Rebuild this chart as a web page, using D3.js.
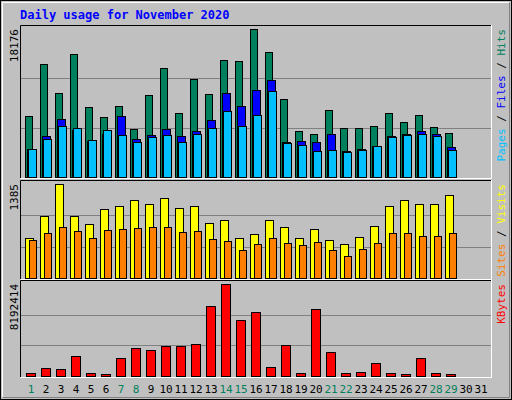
<!DOCTYPE html>
<html><head><meta charset="utf-8">
<script src="https://cdn.jsdelivr.net/npm/d3@7"></script>
<style>body{margin:0;background:#fff}svg{display:block}</style>
</head><body><svg id="chart" width="512" height="400"></svg>
<script>
// data
var days = d3.range(1, 32);
var weekends = [1, 7, 8, 14, 15, 21, 22, 28, 29];
var hits = [7540,13840,10260,15080,8650,7420,8780,5930,10010,13350,7910,11990,10140,14340,14210,18176,15330,9520,5690,5320,8280,6060,6060,6300,7910,6800,7660,6180,5440,0];
var files = [3460,5070,7170,5810,4450,5320,7540,4700,5190,5930,5070,5690,7050,10260,8780,10630,11870,4330,4450,4330,5320,3210,3460,3830,5070,5320,5690,5320,3710,0];
var pages = [3460,4700,6300,6060,4570,5810,5190,4330,4940,5190,4330,5320,6060,8160,6300,7660,10510,4200,3960,3210,3340,3090,3340,3830,4940,5190,5320,5070,3340,0];
var visits = [590,920,1385,920,800,1010,1055,1145,1085,1175,1025,1055,815,860,590,650,860,755,590,725,560,500,605,770,1055,1145,1085,1085,1220,0];
var sites = [560,665,755,695,590,710,725,740,755,755,680,695,575,545,410,500,590,515,485,530,410,320,425,515,665,665,620,620,665,0];
var kbytes = [299000,747500,657800,1823800,299000,209300,1644400,2451700,2272300,2631100,2631100,2810500,6219000,8192414,4963200,5680800,837200,2720800,299000,5949900,2092900,299000,388700,1196000,299000,209300,1644400,299000,209300];

var svg = d3.select('#chart');
var font = "'DejaVu Sans Mono', monospace";

// outer frame
svg.append('rect').attr('x', 0.5).attr('y', 0.5).attr('width', 511).attr('height', 399)
    .attr('fill', '#c0c0c0').attr('stroke', '#000');
svg.append('path').attr('d', 'M2.5,397.5V2.5H509.5').attr('fill', 'none').attr('stroke', '#fff');
svg.append('path').attr('d', 'M2.5,397.5H509.5V2.5').attr('fill', 'none').attr('stroke', '#808080');

svg.append('text').attr('x', 20).attr('y', 19).text('Daily usage for November 2020')
    .attr('font-family', font).attr('font-weight', 'bold').attr('font-size', 12).attr('fill', '#0000ff');

var x = d3.scaleLinear().domain([1, 31]).range([25, 475]);

function panel(y0, y1, top, max, label, series, rlabels) {
    svg.append('path').attr('d', `M20.5,${y1}V${y0}.5H491`).attr('fill', 'none').attr('stroke', '#000');
    svg.append('path').attr('d', `M20.5,${y1}.5H491.5V${y0}`).attr('fill', 'none').attr('stroke', '#fff');
    var base = y1 - 1;
    var y = d3.scaleLinear().domain([0, max]).range([base, top]);
    [1, 2].forEach(function(k) {
        var gy = Math.round(y(max * k / 3)) + 0.5;
        svg.append('line').attr('x1', 21).attr('x2', 491).attr('y1', gy).attr('y2', gy).attr('stroke', '#808080');
    });
    svg.append('text').attr('transform', `translate(18,${top}) rotate(-90)`).attr('text-anchor', 'end')
        .text(label).attr('font-family', font).attr('font-size', 11).attr('fill', '#000');
    series.forEach(function(s) {
        svg.append('g').selectAll('rect').data(s.values).enter().append('rect')
            .attr('x', (d, i) => x(i + 1) + s.dx + 0.5)
            .attr('y', d => Math.round(y(d)) + 0.5)
            .attr('width', s.w)
            .attr('height', d => base - Math.round(y(d)))
            .attr('fill', s.color).attr('stroke', '#000');
    });
    var t = svg.append('text').attr('transform', `translate(505,${y0 + 4}) rotate(90)`)
        .attr('font-family', font).attr('font-size', 11).attr('text-anchor', 'end')
        .attr('transform', `translate(505,${top}) rotate(-90)`);
    rlabels.forEach(function(r, i) {
        if (i) t.append('tspan').text(' / ').attr('fill', '#000');
        t.append('tspan').text(r[0]).attr('fill', r[1]);
    });
}

panel(25, 178, 29, 18176, '18176', [
    {values: hits, color: '#00805c', dx: 0, w: 7},
    {values: files, color: '#0000ff', dx: 2, w: 8},
    {values: pages, color: '#00c0ff', dx: 3, w: 8}
], [['Pages', '#00c0ff'], ['Files', '#0000ff'], ['Hits', '#00805c']]);

panel(180, 279, 184, 1385, '1385', [
    {values: visits, color: '#ffff00', dx: 0, w: 8},
    {values: sites, color: '#ff8000', dx: 4, w: 7}
], [['Sites', '#ff8000'], ['Visits', '#ffff00']]);

panel(280, 377, 284, 8192414, '8192414', [
    {values: kbytes, color: '#ff0000', dx: 1, w: 9}
], [['KBytes', '#ff0000']]);

svg.append('g').selectAll('text').data(days).enter().append('text')
    .attr('x', d => x(d) + 6).attr('y', 393).attr('text-anchor', 'middle')
    .attr('font-family', font).attr('font-size', 11)
    .attr('fill', d => weekends.includes(d) ? '#00805c' : '#000')
    .text(d => d);
</script></body></html>
